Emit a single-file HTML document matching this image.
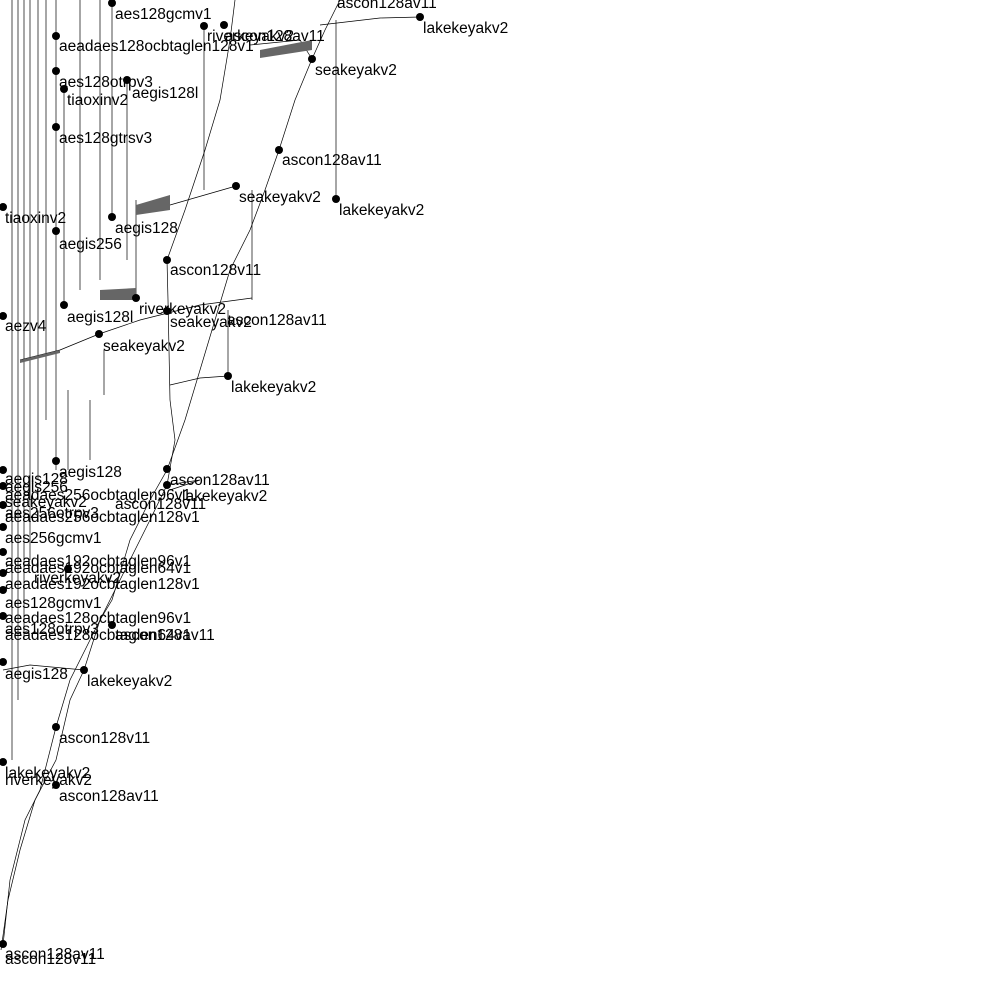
<!DOCTYPE html>
<html><head><meta charset="utf-8"><style>
html,body{margin:0;padding:0;background:#fff;}
svg{display:block}
text{font-family:"Liberation Sans",sans-serif;font-size:15.5px;fill:#000}
</style></head><body>
<svg width="1000" height="1000" viewBox="0 0 1000 1000" xmlns="http://www.w3.org/2000/svg">
<g fill="none" stroke="#000" stroke-width="0.7">
<polyline points="1,950 8,900 20,850 35,800 56,760 70,700 84,670 100,620 112,600 130,540 150,500 167,470 185,420 200,370 215,320 230,270 250,230 265,190 279,150 295,100 312,59 325,30 340,0"/>
<polyline points="3,945 10,880 25,820 40,790 56,727 70,680 90,640 110,600 130,560 150,520 167,485 175,440 170,400 168,300 167,260 185,210 205,150 220,100 230,40 235,0"/>
<line x1="12" y1="0" x2="12" y2="760"/><line x1="18" y1="0" x2="18" y2="700"/>
<line x1="24" y1="0" x2="24" y2="640"/><line x1="30" y1="0" x2="30" y2="560"/>
<line x1="38" y1="0" x2="38" y2="480"/><line x1="46" y1="0" x2="46" y2="420"/>
<line x1="56" y1="0" x2="56" y2="470"/><line x1="64" y1="90" x2="64" y2="305"/>
<line x1="80" y1="0" x2="80" y2="290"/><line x1="100" y1="0" x2="100" y2="280"/>
<line x1="112" y1="3" x2="112" y2="217"/><line x1="127" y1="80" x2="127" y2="260"/>
<line x1="136" y1="200" x2="136" y2="298"/><line x1="204" y1="25" x2="204" y2="190"/>
<line x1="252" y1="190" x2="252" y2="300"/><line x1="228" y1="310" x2="228" y2="376"/>
<line x1="336" y1="20" x2="336" y2="199"/><line x1="104" y1="350" x2="104" y2="395"/>
<line x1="68" y1="390" x2="68" y2="470"/><line x1="90" y1="400" x2="90" y2="460"/>
<polyline points="20,360 60,350 99,334 140,320 200,305 252,298"/>
<polyline points="136,210 170,205 236,186"/>
<polyline points="250,45 300,40 312,59"/>
<polyline points="320,25 380,18 420,17"/>
<polyline points="170,385 200,378 228,376"/>
<polyline points="170,490 200,480 167,485"/>
<polyline points="3,670 30,665 84,670"/>
</g>
<g fill="#666">
<polygon points="136,205 170,195 170,210 136,215"/>
<polygon points="260,50 312,40 312,50 260,58"/>
<polygon points="100,290 136,288 136,300 100,300"/>
<polygon points="20,360 60,350 60,353 20,363" />
</g>
<g fill="#000">
<circle cx="112" cy="3" r="4"/><circle cx="224" cy="25" r="4"/><circle cx="204" cy="26" r="4"/>
<circle cx="420" cy="17" r="4"/><circle cx="56" cy="36" r="4"/><circle cx="56" cy="71" r="4"/>
<circle cx="64" cy="89" r="4"/><circle cx="127" cy="80" r="4"/><circle cx="312" cy="59" r="4"/>
<circle cx="56" cy="127" r="4"/><circle cx="279" cy="150" r="4"/><circle cx="236" cy="186" r="4"/>
<circle cx="336" cy="199" r="4"/><circle cx="3" cy="207" r="4"/><circle cx="112" cy="217" r="4"/>
<circle cx="56" cy="231" r="4"/><circle cx="167" cy="260" r="4"/><circle cx="64" cy="305" r="4"/>
<circle cx="136" cy="298" r="4"/><circle cx="167" cy="311" r="4"/><circle cx="3" cy="316" r="4"/>
<circle cx="99" cy="334" r="4"/><circle cx="228" cy="376" r="4"/><circle cx="56" cy="461" r="4"/>
<circle cx="167" cy="469" r="4"/><circle cx="167" cy="485" r="4"/><circle cx="3" cy="470" r="4"/>
<circle cx="3" cy="486" r="4"/><circle cx="3" cy="505" r="4"/><circle cx="3" cy="527" r="4"/>
<circle cx="3" cy="552" r="4"/><circle cx="3" cy="573" r="4"/><circle cx="68" cy="569" r="4"/>
<circle cx="3" cy="590" r="4"/><circle cx="3" cy="616" r="4"/><circle cx="112" cy="625" r="4"/>
<circle cx="3" cy="662" r="4"/><circle cx="84" cy="670" r="4"/><circle cx="56" cy="727" r="4"/>
<circle cx="3" cy="762" r="4"/><circle cx="56" cy="785" r="4"/><circle cx="3" cy="944" r="4"/>
</g>
<text x="115" y="19">aes128gcmv1</text>
<text x="207" y="41">riverkeyakv2</text><text x="225" y="41">ascon128av11</text>
<text x="337" y="8">ascon128av11</text>
<text x="423" y="33">lakekeyakv2</text>
<text x="59" y="51">aeadaes128ocbtaglen128v1</text>
<text x="59" y="87">aes128otrpv3</text>
<text x="67" y="105">tiaoxinv2</text>
<text x="132" y="98">aegis128l</text>
<text x="315" y="75">seakeyakv2</text>
<text x="59" y="143">aes128gtrsv3</text>
<text x="282" y="165">ascon128av11</text>
<text x="239" y="202">seakeyakv2</text>
<text x="339" y="215">lakekeyakv2</text>
<text x="5" y="223">tiaoxinv2</text>
<text x="115" y="233">aegis128</text>
<text x="59" y="249">aegis256</text>
<text x="170" y="275">ascon128v11</text>
<text x="67" y="322">aegis128l</text>
<text x="139" y="314">riverkeyakv2</text>
<text x="170" y="327">seakeyakv2</text>
<text x="227" y="325">ascon128av11</text>
<text x="5" y="331">aezv4</text>
<text x="103" y="351">seakeyakv2</text>
<text x="231" y="392">lakekeyakv2</text>
<text x="59" y="477">aegis128</text>
<text x="170" y="485">ascon128av11</text>
<text x="182" y="501">lakekeyakv2</text>
<text x="115" y="509">ascon128v11</text>
<text x="5" y="484">aegis128</text>
<text x="5" y="492">aegis256</text>
<text x="5" y="500">aeadaes256ocbtaglen96v1</text>
<text x="5" y="507">seakeyakv2</text>
<text x="5" y="518">aes256otrpv3</text>
<text x="5" y="522">aeadaes256ocbtaglen128v1</text>
<text x="5" y="543">aes256gcmv1</text>
<text x="5" y="566">aeadaes192ocbtaglen96v1</text>
<text x="5" y="573">aeadaes192ocbtaglen64v1</text>
<text x="34" y="583">riverkeyakv2</text>
<text x="5" y="589">aeadaes192ocbtaglen128v1</text>
<text x="5" y="608">aes128gcmv1</text>
<text x="5" y="623">aeadaes128ocbtaglen96v1</text>
<text x="5" y="634">aes128otrpv3</text>
<text x="5" y="640">aeadaes128ocbtaglen64v1</text>
<text x="115" y="640">ascon128av11</text>
<text x="5" y="679">aegis128</text>
<text x="87" y="686">lakekeyakv2</text>
<text x="59" y="743">ascon128v11</text>
<text x="5" y="778">lakekeyakv2</text>
<text x="5" y="785">riverkeyakv2</text>
<text x="59" y="801">ascon128av11</text>
<text x="5" y="959">ascon128av11</text>
<text x="5" y="964">ascon128v11</text>
</svg>
</body></html>
